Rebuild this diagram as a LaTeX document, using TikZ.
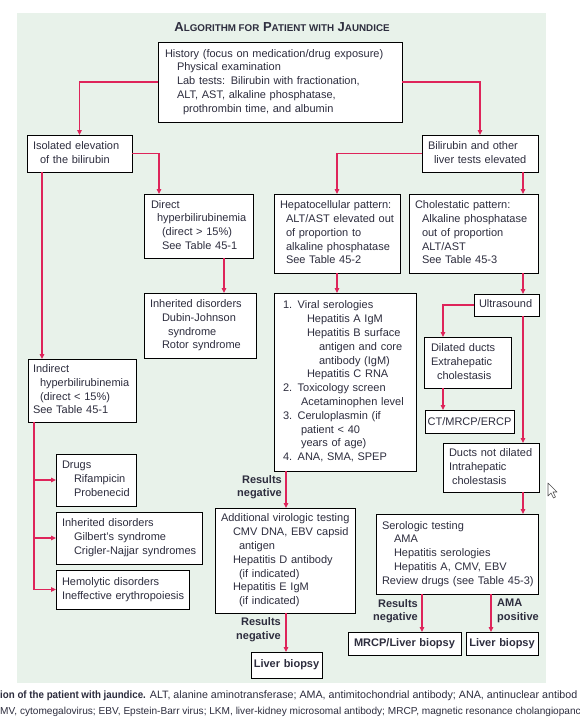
\documentclass[tikz,border=0pt]{standalone}
\usepackage{fontspec}
\setmainfont{Liberation Sans}
\newfontfamily\capfont{Liberation Sans}[FakeStretch=0.92]
\usetikzlibrary{arrows.meta,shadows,calc}
\definecolor{panel}{RGB}{232,242,234}
\definecolor{arrowred}{RGB}{222,36,90}
\definecolor{txt}{RGB}{45,45,62}
\newcommand\boxlines[1]{\begin{tabular}{@{}l@{}}#1\end{tabular}}
\newcommand\indt[1]{\hspace*{#1pt}}
\newcommand\smc[1]{{\fontsize{9.8}{10}\selectfont #1}}
\begin{document}
\begin{tikzpicture}[x=1pt,y=-1pt,
  box/.style={draw=black, line width=1pt, fill=white, rectangle, anchor=north west,
    align=left, inner ysep=0pt, outer sep=0pt, text=txt,
    font=\fontsize{11}{13.8}\selectfont,
    general shadow={fill=black!40, shadow xshift=1.3pt, shadow yshift=-1.3pt}},
  cbox/.style={box, align=center, font=\bfseries\fontsize{11}{13.8}\selectfont},
  arr/.style={draw=arrowred, line width=1.2pt, -{Triangle[length=5pt,width=4.5pt]}},
  lbl/.style={inner sep=0pt, text=txt, font=\bfseries\fontsize{11}{13.6}\selectfont},
  captxt/.style={anchor=west, inner sep=0pt, text=txt, font=\fontsize{10.7}{12}\selectfont}]
\fill[white] (0,0) rectangle (580,718);
\useasboundingbox (0,0) rectangle (580,718);
\fill[panel] (17,13) rectangle (546,683);

\node[inner sep=0pt, text=txt, font=\bfseries\fontsize{13}{14}\selectfont] (title) at (282,27)
  {A\smc{LGORITHM FOR} P\smc{ATIENT WITH} J\smc{AUNDICE}};

\node[box, text width=230pt, inner xsep=7pt, minimum height=80pt] (hist) at (158,42)
  {\boxlines{History (focus on medication/drug exposure)\\ \indt{12}Physical examination\\ \indt{12}Lab tests: Bilirubin with fractionation,\\ \indt{12}ALT, AST, alkaline phosphatase,\\ \indt{18}prothrombin time, and albumin}};

\node[box, text width=93pt, inner xsep=6pt, minimum height=37pt] (iso) at (27,135)
  {\boxlines{Isolated elevation\\ \indt{7}of the bilirubin}};
\node[box, text width=104pt, inner xsep=6pt, minimum height=37pt] (bili) at (422,135)
  {\boxlines{Bilirubin and other\\ \indt{6}liver tests elevated}};

\node[box, text width=95pt, inner xsep=7pt, minimum height=64pt] (direct) at (144,194)
  {\boxlines{Direct\\ \indt{6}hyperbilirubinemia\\ \indt{11}(direct > 15\%)\\ \indt{11}See Table 45-1}};
\node[box, text width=114pt, inner xsep=6pt, minimum height=79pt] (hep) at (274,194)
  {\boxlines{Hepatocellular pattern:\\ \indt{6}ALT/AST elevated out\\ \indt{6}of proportion to\\ \indt{6}alkaline phosphatase\\ \indt{6}See Table 45-2}};
\node[box, text width=117pt, inner xsep=6pt, minimum height=79pt] (chol) at (409,194)
  {\boxlines{Cholestatic pattern:\\ \indt{7}Alkaline phosphatase\\ \indt{7}out of proportion\\ \indt{7}ALT/AST\\ \indt{7}See Table 45-3}};

\node[box, text width=100pt, inner xsep=6pt, minimum height=65pt] (inh1) at (144,293)
  {\boxlines{Inherited disorders\\ \indt{12}Dubin-Johnson\\ \indt{18}syndrome\\ \indt{12}Rotor syndrome}};
\node[box, text width=124pt, inner xsep=9pt, minimum height=178pt] (viral) at (274,293)
  {\boxlines{1. Viral serologies\\ \indt{24}Hepatitis A IgM\\ \indt{24}Hepatitis B surface\\ \indt{36}antigen and core\\ \indt{36}antibody (IgM)\\ \indt{24}Hepatitis C RNA\\ 2. Toxicology screen\\ \indt{18}Acetaminophen level\\ 3. Ceruloplasmin (if\\ \indt{18}patient < 40\\ \indt{18}years of age)\\ 4. ANA, SMA, SPEP}};
\node[box, text width=55pt, inner xsep=5pt, minimum height=22pt] (us) at (474,294)
  {\boxlines{Ultrasound}};
\node[box, text width=73pt, inner xsep=7pt, minimum height=51pt] (dil) at (424,337)
  {\boxlines{Dilated ducts\\ Extrahepatic\\ \indt{6}cholestasis}};
\node[box, align=center, text width=85pt, inner xsep=2pt, minimum height=23pt] (ct) at (425,410)
  {CT/MRCP/ERCP};
\node[box, text width=84pt, inner xsep=6pt, minimum height=49pt] (ndil) at (443,443)
  {\boxlines{Ducts not dilated\\ Intrahepatic\\ \indt{3}cholestasis}};

\node[box, text width=98pt, inner xsep=5pt, minimum height=63pt] (indir) at (28,359)
  {\boxlines{Indirect\\ \indt{7}hyperbilirubinemia\\ \indt{7}(direct < 15\%)\\ See Table 45-1}};
\node[box, text width=68pt, inner xsep=6pt, minimum height=52pt] (drugs) at (56,454)
  {\boxlines{Drugs\\ \indt{12}Rifampicin\\ \indt{12}Probenecid}};
\node[box, text width=134pt, inner xsep=6pt, minimum height=52pt] (inh2) at (56,512)
  {\boxlines{Inherited disorders\\ \indt{12}Gilbert's syndrome\\ \indt{12}Crigler-Najjar syndromes}};
\node[box, text width=121pt, inner xsep=6pt, minimum height=39pt] (hemo) at (56,570)
  {\boxlines{Hemolytic disorders\\ Ineffective erythropoiesis}};

\node[box, text width=128pt, inner xsep=6pt, minimum height=105pt] (addl) at (215,508)
  {\boxlines{Additional virologic testing\\ \indt{12}CMV DNA, EBV capsid\\ \indt{18}antigen\\ \indt{12}Hepatitis D antibody\\ \indt{18}(if indicated)\\ \indt{12}Hepatitis E IgM\\ \indt{18}(if indicated)}};
\node[cbox, text width=67pt, inner xsep=2pt, minimum height=26pt] (lb1) at (251,652)
  {Liver biopsy};

\node[box, text width=150pt, inner xsep=6pt, minimum height=80pt] (sero) at (376,514)
  {\boxlines{Serologic testing\\ \indt{12}AMA\\ \indt{12}Hepatitis serologies\\ \indt{12}Hepatitis A, CMV, EBV\\ Review drugs (see Table 45-3)}};
\node[cbox, text width=109pt, inner xsep=2pt, minimum height=23pt] (mrcp) at (348,632)
  {MRCP/Liver biopsy};
\node[cbox, text width=68pt, inner xsep=2pt, minimum height=23pt] (lb2) at (466,632)
  {Liver biopsy};

% connectors
\draw[arr] (hist.west) -| (iso.north);
\draw[arr] (hist.east) -| (bili.north);
\draw[arr] (iso.east) -| ([xshift=15pt]direct.north west);
\draw[arr] ([xshift=15pt]iso.south west) -- ([xshift=14pt]indir.north west);
\draw[arr] (bili.west) -| (hep.north);
\draw[arr] ([xshift=-15pt]bili.south east) -- ([xshift=-15pt]chol.north east);
\draw[arr] ([xshift=-29pt]direct.south east) -- ([xshift=-32pt]inh1.north east);
\draw[arr] (hep.south) -- ([xshift=-8pt]viral.north);
\draw[arr] ([xshift=-15pt]chol.south east) -- ([xshift=-16pt]us.north east);
\draw[arr] (us.west) -| ([xshift=19pt]dil.north west);
\draw[arr] ([xshift=-16pt]us.south east) -- ([xshift=-16pt]ndil.north east);
\draw[arr] ([xshift=19pt]dil.south west) -- ([xshift=18pt]ct.north west);
\draw[arr] ([xshift=-16pt]ndil.south east) -- ([xshift=-15pt]sero.north east);
\draw[arr] ([xshift=12pt]viral.south west) -- ([xshift=71pt]addl.north west);
\draw[arr] ([xshift=71pt]addl.south west) -- ([xshift=35pt]lb1.north west);
\draw[arr] ([xshift=46pt]sero.south west) -- ([xshift=74pt]mrcp.north west);
\draw[arr] ([xshift=115pt]sero.south west) -- ([xshift=25pt]lb2.north west);
\draw[arr] ([xshift=6pt]indir.south west) |- (drugs.west);
\draw[arr] ([xshift=6pt]indir.south west) |- (inh2.west);
\draw[arr] ([xshift=6pt]indir.south west) |- (hemo.west);

% labels
\node[lbl, anchor=east, align=right] (rn1) at (282,487) {Results\\negative};
\node[lbl, anchor=east, align=right] (rn2) at (281,629.5) {Results\\negative};
\node[lbl, anchor=east, align=right] (rn3) at (418,611) {Results\\negative};
\node[lbl, anchor=west, align=left] (amap) at (497,611) {AMA\\positive};

% caption
\node[captxt] (cap1) at (0,696) {{\capfont\bfseries\fontsize{10.6}{12}\selectfont ion of the patient with jaundice.} ALT, alanine aminotransferase; AMA, antimitochondrial antibody; ANA, antinuclear antibod};
\node[captxt, font=\fontsize{10.1}{12}\selectfont] (cap2) at (0,712) {MV, cytomegalovirus; EBV, Epstein-Barr virus; LKM, liver-kidney microsomal antibody; MRCP, magnetic resonance cholangiopanc};

% mouse pointer
\draw[fill=white, draw=black!70, line width=0.6pt, line join=round]
  (548,483) -- (548,496) -- (551,493) -- (553.5,498) -- (555.5,497) -- (553,492) -- (557,492) -- cycle;
\end{tikzpicture}
\end{document}
